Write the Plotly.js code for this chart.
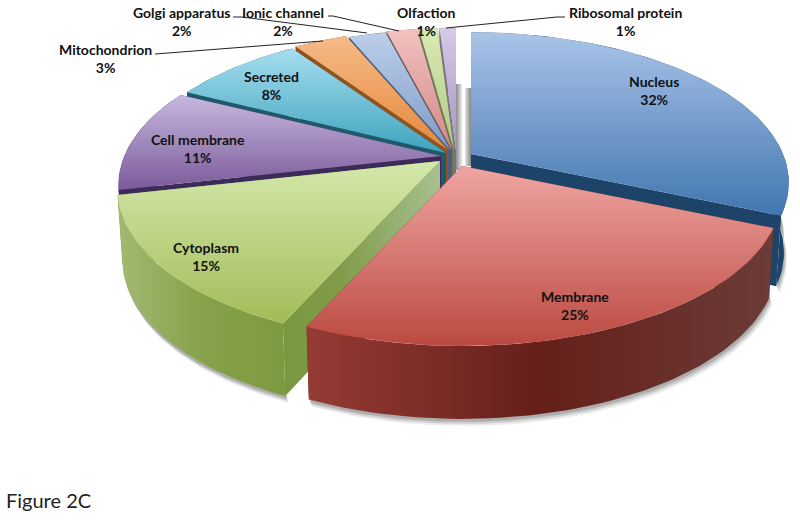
<!DOCTYPE html>
<html>
<head>
<meta charset="utf-8">
<script src="https://cdn.plot.ly/plotly-3.0.1.min.js"></script>
<style>html,body{margin:0;padding:0;background:#fff}#c{width:800px;height:520px}</style>
</head>
<body>
<div id="c"></div>
<script>
// ---- data ----
const categories = ["Nucleus","Membrane","Cytoplasm","Cell membrane","Secreted","Mitochondrion","Golgi apparatus","Ionic channel","Olfaction","Ribosomal protein"];
const percents   = [32,25,15,11,8,3,2,2,1,1];

// ---- styles ----
const topLight  = ["#aac4e8","#f0a5a2","#d5e8ac","#c8b8df","#a6deef","#f7ba88","#bccfea","#f4c0c0","#dbeab4","#d6cbe6"];
const topDark   = ["#4176b0","#bb4a41","#a2bc58","#7a5a9a","#3ea3be","#e4893a","#7d9ac8","#cf8987","#b0c886","#a394bf"];
const wallLeft  = ["#1f3f63","#953b35","#a2ba72","#3c2a58","#205a6a","#8f5320","#4f5f7a","#6a5555","#6f7a55","#77737d"];
const wallRight = ["#1d4468","#6b3c38","#7c9a3f","#3c2a58","#205a6a","#8f5320","#4f5f7a","#6a5555","#6f7a55","#77737d"];
const wallMid   = ["#1d4468","#661f1a","#86a24a","#3c2a58","#205a6a","#8f5320","#4f5f7a","#6a5555","#6f7a55","#77737d"];
const tipX  = [471,462,440,441,446,448,451,452,454,456];
const tipY  = [154,166,161,156,153,150,151,150,150,150];
const scale = [1,1.005,1.015,1.015,1.01,1,1,1,1,1];
const endShift = [0,1,0,0,0,1,2,1.5,2,2];
const drawOrder = [9,8,7,6,5,4,3,0,2,1];
const rotation = -2, rx = 312, ry = 145, persp = 0.19;

// ---- geometry from the values ----
let cum = 0;
const ends = percents.map((p,i)=>{cum+=p; return cum*3.6+rotation+endShift[i];});
const starts = ends.map((e,i)=> i===0 ? 0 : ends[i-1]);

function rim(i,deg){
  const t=deg*Math.PI/180, X=Math.sin(t), Y=Math.cos(t), w=1+persp*Y;
  return [tipX[i]+scale[i]*rx*X/w, tipY[i]-scale[i]*ry*Y/w, Y];
}
function lower(i,p){
  const h=69-4*p[2];
  return [tipX[i]+(p[0]-tipX[i])*0.985, p[1]+h];
}
function arc(i){
  const pts=[], n=Math.max(4,Math.ceil((ends[i]-starts[i])/1.5));
  for(let k=0;k<=n;k++) pts.push(rim(i,starts[i]+(ends[i]-starts[i])*k/n));
  return pts;
}
function poly(pts,extra){
  const xs=pts.map(p=>p[0]), ys=pts.map(p=>p[1]);
  xs.push(xs[0]); ys.push(ys[0]);
  return Object.assign({x:xs,y:ys,type:"scatter",mode:"lines",line:{width:0,color:"rgba(0,0,0,0)"},
    fill:"toself",hoverinfo:"skip",showlegend:false},extra);
}
const traces=[];
// soft shadow beneath the large front slices
[0,1,2].forEach(i=>{
  [[6,7,0.10],[4,5,0.16],[2,3,0.22]].forEach(s=>{
    const a=arc(i).filter(p=>p[2]<0.25).map(p=>lower(i,p)).map(p=>[p[0]+s[0]*0.5,p[1]+s[1]]);
    const b=arc(i).filter(p=>p[2]<0.25).map(p=>lower(i,p)).map(p=>[p[0],p[1]-14]).reverse();
    traces.push(poly(a.concat(b),{fillcolor:`rgba(60,60,60,${s[2]})`}));
  });
});
// grey shadow columns in the gap beside the nucleus
function column(i,left,right,up,down,c0,c1){
  return poly([[tipX[i]+left,tipY[i]-up],[tipX[i]+right,tipY[i]-up],[tipX[i]+right,tipY[i]+down],[tipX[i]+left,tipY[i]+down]],
    {fillgradient:{type:"horizontal",colorscale:[[0,c0],[1,c1]]},fillcolor:c0});
}
traces.push(column(0,-6,0,66,12,"#e4e4e4","#858585"));
traces.push(column(9,0,6,66,20,"#8a8a8a","#ececec"));

drawOrder.forEach(i=>{
  const a=arc(i), first=a[0], last=a[a.length-1], tip=[tipX[i],tipY[i]], tipDown=[tipX[i],tipY[i]+69];
  const wallFill={fillcolor:wallMid[i]};
  traces.push(poly([tip,last,lower(i,last),tipDown],wallFill));
  traces.push(poly([tip,first,lower(i,first),tipDown],
    i===2?{fillgradient:{type:"horizontal",colorscale:[[0,"#7a9740"],[0.35,"#7f9b48"],[1,"#a8c090"]]},fillcolor:"#7f9b48"}:wallFill));
  const outer=a.concat(a.map(p=>lower(i,p)).reverse());
  traces.push(poly(outer,{fillcolor:wallMid[i],
    fillgradient:{type:"horizontal",colorscale:[[0,wallLeft[i]],[0.5,wallMid[i]],[1,wallRight[i]]]}}));
  traces.push(poly([tip].concat(a),{fillcolor:topDark[i],name:categories[i],
    fillgradient:{type:"vertical",colorscale:[[0,topDark[i]],[1,topLight[i]]]}}));
});

// ---- labels ----
const labelX=[654,575,206,198,271,105,181,283,426,625];
const labelY=[90,305,256,148,85,58,21,21,21,21];
const annotations=categories.map((c,i)=>({
  x:labelX[i],y:labelY[i],xref:"x",yref:"y",showarrow:false,xanchor:"center",yanchor:"middle",
  text:`<b>${c}</b><br><b>${percents[i]}%</b>`,font:{family:"Lato, sans-serif",size:14,color:"#111"}
}));
annotations.push({x:4,y:500,xref:"x",yref:"y",showarrow:false,xanchor:"left",yanchor:"middle",
  text:"Figure 2C",font:{family:"Lato, sans-serif",size:20,color:"#222"}});

const leaders=["M155 54 L323 41","M233 17 L242 17 L367 33","M328 16 L333 16 L399 31","M565 17 L557 17 L446 28"];
const shapes=leaders.map(d=>({type:"path",path:d,xref:"x",yref:"y",line:{color:"#222",width:1}}));

Plotly.newPlot("c",traces,{
  width:800,height:520,margin:{l:0,r:0,t:0,b:0},paper_bgcolor:"#fff",plot_bgcolor:"#fff",showlegend:false,
  xaxis:{range:[0,800],visible:false,fixedrange:true},
  yaxis:{range:[520,0],visible:false,fixedrange:true},
  annotations:annotations,shapes:shapes
},{displayModeBar:false,staticPlot:true});
</script>
</body>
</html>
